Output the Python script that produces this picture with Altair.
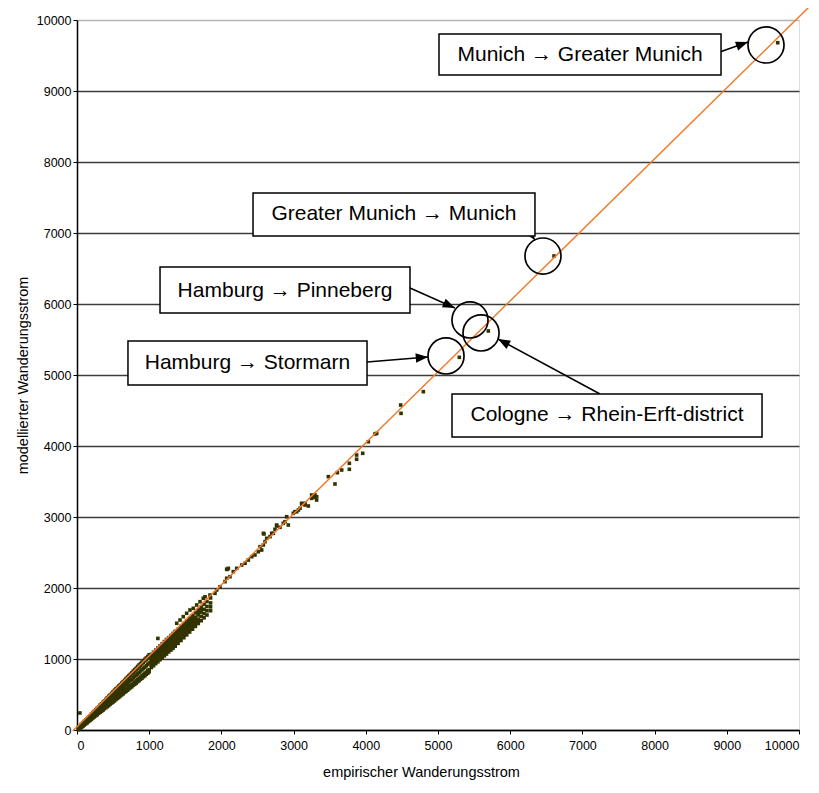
import math
import altair as alt
import pandas as pd

# ---------------- data ----------------
# dense band of flows near the origin: x = empirical, y = list of modelled values
dense_x = [20, 40, 60, 80, 100, 120, 140, 160, 180, 200, 220, 240, 260, 280, 300,
           320, 340, 360, 380, 400, 420, 440, 460, 480, 500, 520, 540, 560, 580, 600,
           620, 640, 660, 680, 700, 720, 740, 760, 780, 800, 820, 840, 860, 880, 900,
           920, 940, 960, 980, 1000, 1030, 1060, 1090, 1120, 1150, 1180, 1210, 1240,
           1270, 1300, 1330, 1360, 1400, 1440, 1480, 1520, 1560, 1600, 1640, 1680,
           1720, 1760, 1800, 1850]
dense_y = [
    [30, 15, 40, 5], [50, 30, 240, 20, 40], [70, 45, 80, 35, 55], [90, 60, 100, 50, 75],
    [110, 80, 120, 70, 95], [130, 95, 140, 85, 110], [150, 115, 160, 100, 130],
    [170, 130, 180, 120, 150], [190, 150, 200, 135, 170], [210, 165, 225, 150, 190],
    [230, 185, 245, 170, 205], [250, 200, 265, 185, 225], [275, 215, 285, 200, 245],
    [295, 235, 305, 215, 260], [315, 250, 325, 235, 280], [335, 265, 350, 250, 300],
    [355, 285, 370, 265, 320], [375, 300, 390, 280, 340], [395, 320, 410, 300, 355],
    [415, 335, 430, 315, 375], [435, 350, 455, 330, 395], [455, 370, 475, 345, 415],
    [480, 385, 495, 365, 430], [500, 400, 515, 380, 450], [520, 420, 540, 395, 470],
    [540, 435, 560, 410, 490], [560, 455, 580, 430, 505], [580, 470, 600, 445, 525],
    [600, 490, 620, 460, 545], [625, 505, 640, 480, 565], [645, 520, 660, 495, 585],
    [665, 540, 680, 510, 600], [685, 555, 700, 530, 620], [705, 575, 725, 545, 640],
    [725, 590, 745, 560, 660], [750, 610, 765, 580, 680], [770, 625, 785, 595, 700],
    [790, 640, 805, 610, 715], [810, 660, 830, 630, 735], [830, 675, 850, 645, 755],
    [850, 695, 870, 660, 775], [870, 710, 895, 680, 790], [890, 730, 915, 695, 810],
    [910, 745, 935, 715, 830], [935, 765, 955, 730, 850], [955, 780, 975, 750, 870],
    [975, 800, 995, 765, 885], [995, 815, 1015, 785, 905], [1015, 835, 1035, 800, 925],
    [1035, 850, 1060, 820, 945],
    [1065, 880, 1000, 945, 910, 1035, 970], [1095, 905, 1030, 970, 940, 1065, 1000],
    [1125, 935, 1060, 1000, 970, 1095, 1030], [1155, 960, 1090, 1290, 1030, 995, 1125, 1060],
    [1185, 990, 1120, 1060, 1025, 1155, 1090], [1215, 1015, 1150, 1085, 1050, 1185, 1120],
    [1245, 1045, 1180, 1085, 1115, 1080, 1215, 1150], [1275, 1070, 1210, 1140, 1105, 1245, 1175],
    [1300, 1100, 1240, 1170, 1135, 1270, 1205], [1330, 1125, 1270, 1200, 1160, 1300, 1235],
    [1360, 1150, 1300, 1230, 1190, 1330, 1265], [1390, 1180, 1330, 1260, 1220, 1360, 1295],
    [1420, 1220, 1360, 1300, 1260, 1390, 1330], [1460, 1260, 1400, 1330, 1295, 1430, 1365],
    [1500, 1300, 1440, 1370, 1335, 1470, 1405], [1540, 1340, 1470, 1410, 1375, 1505, 1440],
    [1575, 1380, 1510, 1450, 1415, 1545, 1480], [1610, 1420, 1550, 1490, 1455, 1580, 1520],
    [1650, 1460, 1590, 1530, 1495, 1560], [1690, 1500, 1620, 1560, 1530, 1655],
    [1730, 1540, 1660, 1600, 1700], [1770, 1580, 1700, 1640], [1810, 1620, 1740, 1680],
    [1860, 1680, 1790, 1735],
]

# sparser flows above ~1400
sparse_x = [1381, 1427, 1472, 1519, 1565, 1611, 1658, 1704, 1749, 1773, 1842, 1911, 1935,
            1981, 2050, 2073, 2073, 2082, 2096, 2119, 2165, 2212, 2281, 2327, 2373, 2420,
            2465, 2511, 2535, 2558, 2581, 2581, 2590, 2604, 2627, 2673, 2697, 2719, 2742,
            2765, 2766, 2812, 2857, 2881, 2904, 2927, 2996, 3019, 3043, 3066, 3089, 3112,
            3112, 3158, 3158, 3204, 3250, 3250, 3273, 3296, 3296, 3319, 3319, 3481, 3573,
            3606, 3666, 3772, 3772, 3873, 3873, 3957, 4035, 4127, 4151, 4483, 4488, 4797]
sparse_y = [1503, 1549, 1596, 1644, 1690, 1714, 1761, 1807, 1855, 1877, 1901, 1925, 1972,
            2018, 2089, 2137, 2263, 2263, 2277, 2159, 2230, 2277, 2324, 2348, 2394, 2441,
            2465, 2511, 2582, 2535, 2606, 2770, 2761, 2652, 2700, 2723, 2770, 2770, 2827,
            2887, 2873, 2855, 2911, 2934, 3004, 2887, 3052, 3075, 3075, 3099, 3123, 3183,
            3193, 3193, 3169, 3155, 3263, 3310, 3286, 3310, 3277, 3239, 3286, 3568, 3465,
            3624, 3662, 3756, 3672, 3873, 3813, 3897, 4060, 4169, 4178, 4577, 4460, 4765]

# the highlighted large flows
special_x = [9705, 6607, 5697, 5295]
special_y = [9680, 6676, 5620, 5249]

# fitted line (orange)
fit_x = [-60, 10150]
fit_y = [-15, 10195]

# annotations
labels = ["Munich \u2192 Greater Munich", "Greater Munich \u2192 Munich",
          "Hamburg \u2192 Pinneberg", "Hamburg \u2192 Stormarn",
          "Cologne \u2192 Rhein-Erft-district"]
box_x1 = [5014, 2438, 1150, 706, 5194]
box_x2 = [8920, 6343, 4612, 4017, 9488]
box_y1 = [9225, 6958, 5873, 4859, 4127]
box_y2 = [9803, 7563, 6521, 5479, 4732]
text_x = [6967, 4390, 2881, 2361, 7341]
text_y = [9507, 7262, 6190, 5169, 4430]

circle_x = [9543, 6454, 5443, 5596, 5111]
circle_y = [9648, 6676, 5775, 5592, 5268]

arrow_x1 = [8864, 6108, 4612, 4017, 7244]
arrow_y1 = [9535, 7225, 6225, 5183, 4732]
arrow_x2 = [9294, 6343, 5235, 4861, 5831]
arrow_y2 = [9690, 6901, 5944, 5254, 5507]

# ---------------- build tables ----------------
pts = []
for x, ys in zip(dense_x, dense_y):
    for y in ys:
        pts.append({"x": x, "y": y})
for x, y in zip(sparse_x, sparse_y):
    pts.append({"x": x, "y": y})
for x, y in zip(special_x, special_y):
    pts.append({"x": x, "y": y})
points_df = pd.DataFrame(pts)

fit_df = pd.DataFrame({"x": fit_x, "y": fit_y})
box_df = pd.DataFrame({"x1": box_x1, "x2": box_x2, "y1": box_y1, "y2": box_y2})
text_df = pd.DataFrame({"x": text_x, "y": text_y, "t": labels})
circ_df = pd.DataFrame({"x": circle_x, "y": circle_y})

W, H = 722, 710
PX_X, PX_Y = W / 10000, H / 10000
angles = []
for a, b, c, d in zip(arrow_x1, arrow_y1, arrow_x2, arrow_y2):
    dxp = (c - a) * PX_X
    dyp = -(d - b) * PX_Y
    angles.append(math.degrees(math.atan2(dxp, -dyp)) % 360)
arr_df = pd.DataFrame({"x1": arrow_x1, "y1": arrow_y1, "x2": arrow_x2,
                       "y2": arrow_y2, "ang": angles})

FONT = "Liberation Sans, Arial, sans-serif"

xs = alt.Scale(domain=[0, 10000], nice=False, zero=False)
ys = alt.Scale(domain=[0, 10000], nice=False, zero=False)

x_axis = alt.Axis(values=list(range(0, 10001, 1000)), format="d", grid=False, tickSize=4,
                  tickColor="black", domainColor="black", domainWidth=1.5,
                  labelFont=FONT, labelFontSize=12.5, labelColor="black",
                  labelPadding=5, title="empirischer Wanderungsstrom",
                  titleFont=FONT, titleFontSize=14.5, titleFontWeight="normal",
                  titleColor="black", titlePadding=14, titleX=344, titleAlign="center",
                  titleAnchor="start")
y_axis = alt.Axis(values=list(range(0, 10001, 1000)), format="d", grid=True,
                  gridColor={"condition": {"test": "datum.value === 10000", "value": "#b4b4b4"},
                             "value": "#3c3c3c"},
                  gridWidth=1.6, tickSize=4, tickColor="black", domainColor="black",
                  domainWidth=1.5, labelFont=FONT, labelFontSize=12.5,
                  labelColor="black", labelPadding=2,
                  title="modellierter Wanderungsstrom", titleFont=FONT,
                  titleFontSize=14.5, titleFontWeight="normal", titleColor="black",
                  titlePadding=6)

points = alt.Chart(points_df).mark_square(size=13, color="#333300", opacity=1).encode(
    x=alt.X("x:Q", scale=xs, axis=x_axis),
    y=alt.Y("y:Q", scale=ys, axis=y_axis),
)

fit = alt.Chart(fit_df).mark_line(color="#F07B2A", strokeWidth=1.5, clip=False).encode(
    x=alt.X("x:Q", scale=xs), y=alt.Y("y:Q", scale=ys))

circles = alt.Chart(circ_df).mark_point(shape="circle", size=1300, filled=False,
                                        stroke="black", strokeWidth=1.7,
                                        opacity=1).encode(
    x=alt.X("x:Q", scale=xs), y=alt.Y("y:Q", scale=ys))

arrow_lines = alt.Chart(arr_df).mark_rule(color="black", strokeWidth=1.5).encode(
    x=alt.X("x1:Q", scale=xs), y=alt.Y("y1:Q", scale=ys), x2="x2:Q", y2="y2:Q")

arrow_heads = alt.Chart(arr_df).mark_point(
    shape="M0,0L-0.48,1.25L0.48,1.25Z", size=380, filled=True, color="black",
    opacity=1, strokeWidth=0).encode(
    x=alt.X("x2:Q", scale=xs), y=alt.Y("y2:Q", scale=ys),
    angle=alt.Angle("ang:Q", scale=None))

boxes = alt.Chart(box_df).mark_rect(fill="white", stroke="black", strokeWidth=1.5).encode(
    x=alt.X("x1:Q", scale=xs), x2="x2:Q", y=alt.Y("y1:Q", scale=ys), y2="y2:Q")

texts = alt.Chart(text_df).mark_text(font=FONT, fontSize=21, color="black",
                                     align="center", baseline="middle").encode(
    x=alt.X("x:Q", scale=xs), y=alt.Y("y:Q", scale=ys), text="t:N")

chart = alt.layer(points, fit, circles, arrow_lines, arrow_heads, boxes, texts).properties(
    width=W, height=H,
    autosize=alt.AutoSizeParams(type="none"),
    padding={"left": 69, "top": 12, "right": 12, "bottom": 55},
).configure_view(stroke="#b4b4b4", strokeWidth=1.5).configure(background="white")

chart.save("out.html", embed_options={"renderer": "svg", "actions": False})
